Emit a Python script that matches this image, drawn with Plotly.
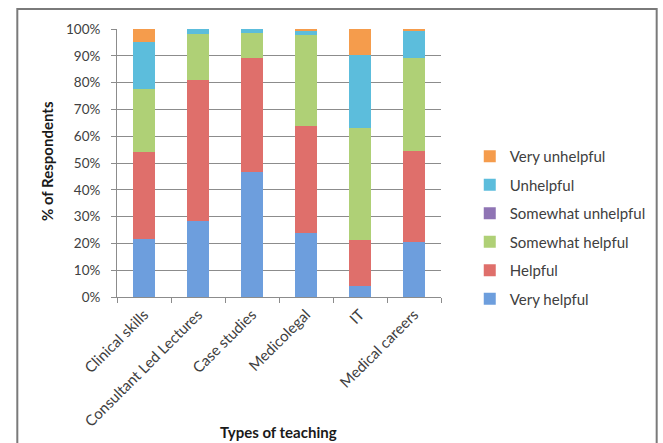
import plotly.graph_objects as go

# Survey responses: share of respondents (%) per type of teaching
categories = ["Clinical skills", "Consultant Led Lectures", "Case studies",
              "Medicolegal", "IT", "Medical careers"]

very_helpful       = [21.5, 28.5, 46.5, 23.7, 4.0, 20.6]
helpful            = [32.5, 52.5, 42.5, 40.0, 17.2, 34.0]
somewhat_helpful   = [23.5, 17.0, 9.5, 34.0, 42.0, 34.5]
somewhat_unhelpful = [0.0, 0.0, 0.0, 0.0, 0.0, 0.0]
unhelpful          = [17.5, 2.0, 1.5, 1.7, 27.2, 10.4]
very_unhelpful     = [5.0, 0.0, 0.0, 0.6, 9.6, 0.5]

y_tick_values = [0, 10, 20, 30, 40, 50, 60, 70, 80, 90, 100]
y_tick_labels = ["0%", "10%", "20%", "30%", "40%", "50%", "60%", "70%", "80%", "90%", "100%"]

series = [
    ("Very helpful", very_helpful, "#6d9edd"),
    ("Helpful", helpful, "#df6f6b"),
    ("Somewhat helpful", somewhat_helpful, "#afd076"),
    ("Somewhat unhelpful", somewhat_unhelpful, "#8f74b4"),
    ("Unhelpful", unhelpful, "#5cbddc"),
    ("Very unhelpful", very_unhelpful, "#f59c4c"),
]

W, H = 663, 443
L, R, T, B = 117, 455, 29, 297  # plot area in pixels


def px_x(p):
    return (p - L) / (R - L)


def px_y(p):
    return (B - p) / (B - T)


fig = go.Figure()
n = len(series)
for i, (name, vals, color) in enumerate(series):
    fig.add_trace(go.Bar(
        x=categories, y=vals, name=name, legendgroup=name,
        legendrank=n - i,  # top of the stack listed first
        marker=dict(color=color, line=dict(width=0)),
    ))

font_family = "Lato, Open Sans, sans-serif"

fig.update_layout(
    width=W, height=H,
    margin=dict(l=L, r=W - R, t=T, b=H - B, pad=0),
    paper_bgcolor="white", plot_bgcolor="white",
    barmode="stack", bargap=0.59,
    font=dict(family=font_family, size=14, color="#404040"),
    showlegend=True,
    legend=dict(
        x=px_x(485), xanchor="left", y=px_y(140), yanchor="top",
        traceorder="grouped", tracegroupgap=6,
        font=dict(size=15, color="#404040"),
        bgcolor="rgba(0,0,0,0)",
    ),
    xaxis=dict(
        showgrid=False, showline=True, linecolor="#8c8c8c", linewidth=1,
        ticks="outside", ticklen=5, tickcolor="#8c8c8c", tickson="boundaries",
        tickangle=-45, tickfont=dict(size=15, color="#404040"),
        ticklabelstandoff=2,
        fixedrange=True,
    ),
    yaxis=dict(
        range=[0, 100], tickvals=y_tick_values, ticktext=y_tick_labels,
        showgrid=True, gridcolor="#8c8c8c", gridwidth=1,
        showline=True, linecolor="#8c8c8c", linewidth=1,
        ticks="outside", ticklen=5, tickcolor="#8c8c8c",
        ticklabelstandoff=8,
        tickfont=dict(size=13.5, color="#404040"), zeroline=False,
        fixedrange=True,
    ),
    annotations=[
        dict(text="<b>% of Respondents</b>", textangle=-90,
             x=px_x(44), y=px_y(161), xref="paper", yref="paper",
             xanchor="center", yanchor="middle",
             showarrow=False, font=dict(size=15, color="#1a1a1a")),
        dict(text="<b>Types of teaching</b>",
             x=px_x(285), y=px_y(432), xref="paper", yref="paper",
             xanchor="center", yanchor="middle",
             showarrow=False, font=dict(size=15, color="#1a1a1a")),
    ],
    shapes=[
        # outer frame around the chart
        dict(type="rect", xref="paper", yref="paper",
             x0=px_x(13), x1=px_x(680), y0=px_y(460), y1=px_y(9),
             line=dict(color="#7a7a7a", width=2), layer="below"),
    ],
)

fig.write_html("out.html", config={"displayModeBar": False})
